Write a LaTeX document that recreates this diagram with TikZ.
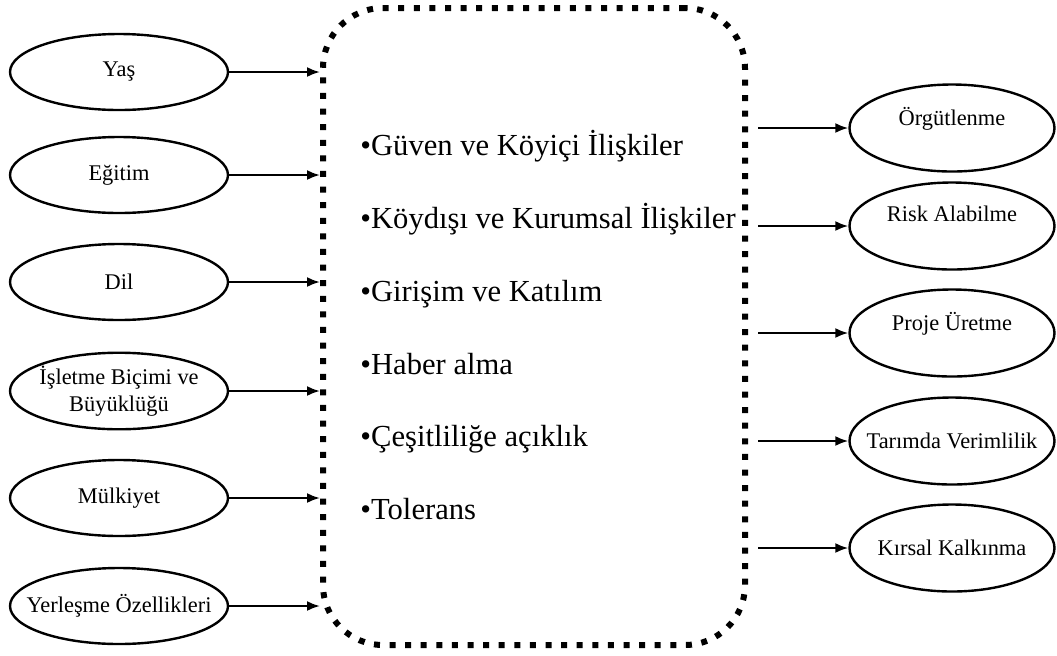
\documentclass[tikz,border=0pt]{standalone}
\usepackage{fontspec}
\setmainfont{Liberation Serif}
\usetikzlibrary{shapes.geometric,arrows.meta}

\tikzset{
	oval/.style={draw,shape=ellipse,line width=1.2pt,inner xsep=-10pt,inner ysep=1pt,
		align=center,font=\fontsize{11.2}{13.4}\selectfont},
	sol/.style={oval,minimum width=109pt,minimum height=38pt},
	sag/.style={oval,minimum width=102.5pt,minimum height=43.5pt},
	yukari/.style={text depth=12pt},
	kutu/.style={draw,shape=rectangle,rounded corners=30pt,line width=3pt,
		dash pattern=on 3pt off 4.8pt,minimum width=211pt,minimum height=318.5pt,inner sep=0pt},
	madde/.style={anchor=base west,inner sep=0pt,font=\fontsize{15.3}{18}\selectfont},
	oklu/.style={-{Latex[length=6.5pt,width=5pt]},line width=1.1pt}
}

\begin{document}
\begin{tikzpicture}[x=0.5pt,y=-0.5pt]
		\useasboundingbox (0,0) rectangle (1057,655);
		
		\node[kutu] (box) at (534,326.5) {};
		
		\node[madde] (guv)  at (360,155) {•Güven ve Köyiçi İlişkiler};
		\node[madde] (koyd) at (360,228) {•Köydışı ve Kurumsal İlişkiler};
		\node[madde] (giri) at (360,301) {•Girişim ve Katılım};
		\node[madde] (habr) at (360,374) {•Haber alma};
		\node[madde] (cesi) at (360,446) {•Çeşitliliğe açıklık};
		\node[madde] (tolr) at (360,519) {•Tolerans};
		
		\node[sol] (yas)  at (119,72)  {Yaş};
		\node[sol] (egit) at (119,175) {Eğitim};
		\node[sol] (dil)  at (119,282) {Dil};
		\node[sol] (islt) at (119,391) {İşletme Biçimi ve\\Büyüklüğü};
		\node[sol] (mulk) at (119,498) {Mülkiyet};
		\node[sol] (yerl) at (119,606) {Yerleşme Özellikleri};
		
		\node[sag,yukari] (orgt) at (952,128) {Örgütlenme};
		\node[sag,yukari] (risk) at (952,226) {Risk Alabilme};
		\node[sag,yukari] (proj) at (952,333) {Proje Üretme};
		\node[sag] (tarm) at (952,441) {Tarımda Verimlilik};
		\node[sag] (kirs) at (952,548) {Kırsal Kalkınma};
		
		\foreach \n in {yas,egit,dil,islt,mulk,yerl}
		\draw[oklu] (\n.east) -- (\n.east -| box.west);
		\foreach \n in {orgt,risk,proj,tarm,kirs}
		\draw[oklu] (\n.west -| box.east) ++(10,0) -- (\n.west);
		\end{tikzpicture}
\end{document}
